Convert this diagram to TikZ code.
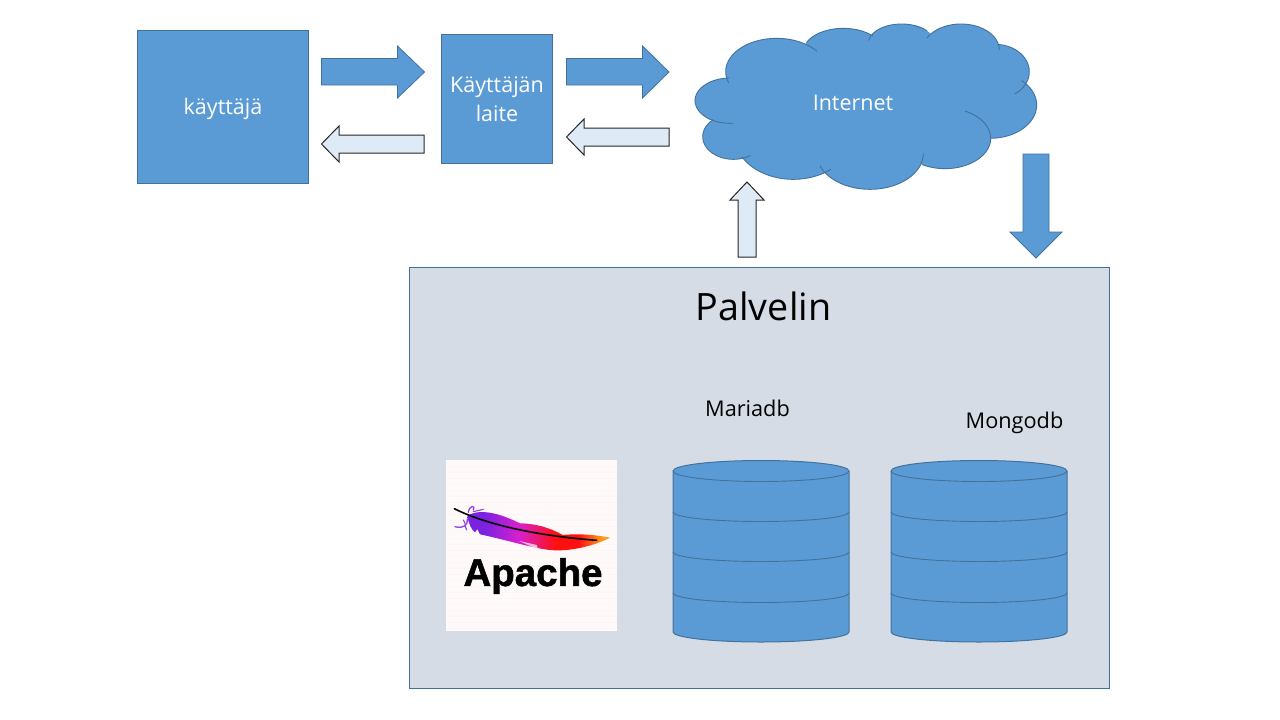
\documentclass[tikz,border=0pt]{standalone}
\usepackage{fontspec}
\setmainfont{Open Sans}
\newfontfamily\logofont{Liberation Sans}[FakeBold=1.4]
\definecolor{blu}{HTML}{5B9BD5}
\definecolor{bord}{HTML}{41719C}
\definecolor{pale}{HTML}{DEEBF7}
\definecolor{srv}{HTML}{D6DCE5}
\definecolor{fa}{HTML}{7A22E0}
\definecolor{fb}{HTML}{D81FD0}
\definecolor{fc}{HTML}{FF1010}
\definecolor{fd}{HTML}{FF9A1A}
\pgfdeclarehorizontalshading{feathershade}{100bp}{
 color(0bp)=(fa);
 color(25bp)=(fa);
 color(31bp)=(fa);
 color(43bp)=(fb);
 color(56bp)=(fc);
 color(64bp)=(fc);
 color(72bp)=(fd);
 color(100bp)=(fd)}
\tikzset{
 bluebox/.style={draw=bord,fill=blu,line width=1pt},
 bluearrow/.style={draw=bord,fill=blu,line width=0.8pt,line join=miter},
 palearrow/.style={draw=black!85,fill=pale,line width=1pt,line join=miter},
 whitelabel/.style={text=white,font=\fontsize{21.5}{29}\selectfont,align=center},
 darklabel/.style={text=black,font=\fontsize{21.7}{26}\selectfont},
 seam/.style={draw=bord,line width=0.9pt,fill=none}
}
\newcommand{\dbstack}[1]{%
 \begin{scope}[shift={(#1,0)}]
  \path[bluebox] (0,471) -- (0,632) arc[x radius=88,y radius=10,start angle=180,end angle=0] -- (176,471) arc[x radius=88,y radius=10.5,start angle=0,end angle=-180] -- cycle;
  \draw[seam] (0,471) arc[x radius=88,y radius=10.5,start angle=180,end angle=0];
  \draw[seam] (0,512) arc[x radius=88,y radius=9.5,start angle=180,end angle=0];
  \draw[seam] (0,552) arc[x radius=88,y radius=9.5,start angle=180,end angle=0];
  \draw[seam] (0,593) arc[x radius=88,y radius=9.5,start angle=180,end angle=0];
 \end{scope}}
\newcommand{\lobelist}{290/185/153/100/160/322,490/125/120/70/203/318,665/100/100/58/188/320,843/120/115/78/207/360,945/185/103/82/275/415,930/285/140/100/313/450,795/385/137/91/-64/120,570/430/160/108/0/160,340/380/175/128/50/152,160/380/92/68/56/229,150/272/105/68/85/268}
\begin{document}
\begin{tikzpicture}[x=1pt,y=-1pt]
\useasboundingbox (0,0) rectangle (1280,720);
\fill[white] (0,0) rectangle (1280,720);
% top boxes
\node[bluebox,minimum width=171pt,minimum height=153pt,inner sep=0pt,anchor=north west] (user) at (137,30) {};
\node[whitelabel] (userlabel) at (223,109) {käyttäjä};
\node[bluebox,minimum width=111pt,minimum height=129pt,inner sep=0pt,anchor=north west] (device) at (441,34) {};
\node[whitelabel] (devicelabel) at (497,99.5) {Käyttäjän\\laite};
% arrows
\path[bluearrow] (321.5,58.5)--(397.5,58.5)--(397.5,46)--(424.5,72)--(397.5,98)--(397.5,85)--(321.5,85)--cycle;
\path[bluearrow] (566.5,58.5)--(642.5,58.5)--(642.5,46)--(669,72)--(642.5,98)--(642.5,85)--(566.5,85)--cycle;
\path[palearrow] (424,135)--(339,135)--(339,126)--(321.5,144)--(339,162)--(339,153)--(424,153)--cycle;
\path[palearrow] (669,128)--(584,128)--(584,119)--(566.5,137)--(584,155)--(584,146)--(669,146)--cycle;
\path[palearrow] (738,257)--(738,200)--(730,200)--(747,182)--(764,200)--(756,200)--(756,257)--cycle;
\path[bluearrow] (1023,154)--(1049,154)--(1049,232)--(1062,232)--(1036,258)--(1010,232)--(1023,232)--cycle;
% cloud: filled ellipses, then the visible arcs of each lobe
\foreach \cx/\cy/\rx/\ry/\a/\b in \lobelist
 \fill[blu] ({680+\cx/3},{10+\cy/3}) ellipse[x radius=\rx/3,y radius=\ry/3];
\fill[blu] (780,60) -- (860,45) -- (940,45) -- (990,110) -- (950,150) -- (790,150) -- (740,110) -- cycle;
\foreach \cx/\cy/\rx/\ry/\a/\b in \lobelist
 \draw[seam] ({680+\cx/3+\rx/3*cos(\a)},{10+\cy/3+\ry/3*sin(\a)}) arc[start angle=\a,end angle=\b,x radius=\rx/3,y radius=\ry/3];
\node[whitelabel] (cloudlabel) at (853,103) {Internet};
% server
\node[draw=bord,fill=srv,line width=1pt,minimum width=700pt,minimum height=421pt,inner sep=0pt,anchor=north west] (server) at (409,267) {};
\node[text=black,font=\fontsize{37.7}{40}\selectfont] (serverlabel) at (763.5,306) {Palvelin};
\node[darklabel] (maria) at (747.5,408.5) {Mariadb};
\node[darklabel] (mongo) at (1014.5,423) {Mongodb};
\dbstack{673}
\dbstack{891}
% apache logo
\fill[white!98!red] (446,460) rectangle (617,631);
\begin{scope}
 \foreach \yy in {466,472,...,628} \draw[red!4,line width=0.4pt] (446,\yy) -- (617,\yy);
\end{scope}
\begin{scope}[shift={(440,455)},x=0.3333pt,y=-0.3333pt]
 \shade[shading=feathershade,shading angle=0]
  (82,182) .. controls (110,165) and (160,165) .. (240,205)
  .. controls (270,205) and (320,212) .. (368,240)
  .. controls (420,235) and (470,240) .. (510,248)
  .. controls (480,265) and (400,292) .. (330,285)
  .. controls (280,280) and (200,255) .. (120,238)
  -- (112,222) -- (105,232) .. controls (95,225) and (85,205) .. (82,182) -- cycle;
 \draw[fa!85!white,line width=1.3pt,line cap=round] (85,172) .. controls (88,150) and (108,150) .. (100,165);
 \draw[fa!85!white,line width=1.3pt,line cap=round] (82,192) .. controls (85,210) and (70,222) .. (45,215);
 \draw[fa!85!white,line width=1.1pt,line cap=round] (100,170) -- (130,163);
 \draw[fa!85!white,line width=1.1pt,line cap=round] (70,195) .. controls (78,205) and (75,218) .. (80,225);
 \draw[black,line width=1.6pt,line cap=round] (43,161) .. controls (120,200) and (260,240) .. (470,256);
 \fill[white,opacity=.7] (238,258) -- (290,270) -- (295,284) -- cycle;
\end{scope}
\node[text=black,font=\logofont\bfseries\fontsize{38.5}{40}\selectfont] (apachelabel) at (533,576) {Apache};
\end{tikzpicture}
\end{document}
